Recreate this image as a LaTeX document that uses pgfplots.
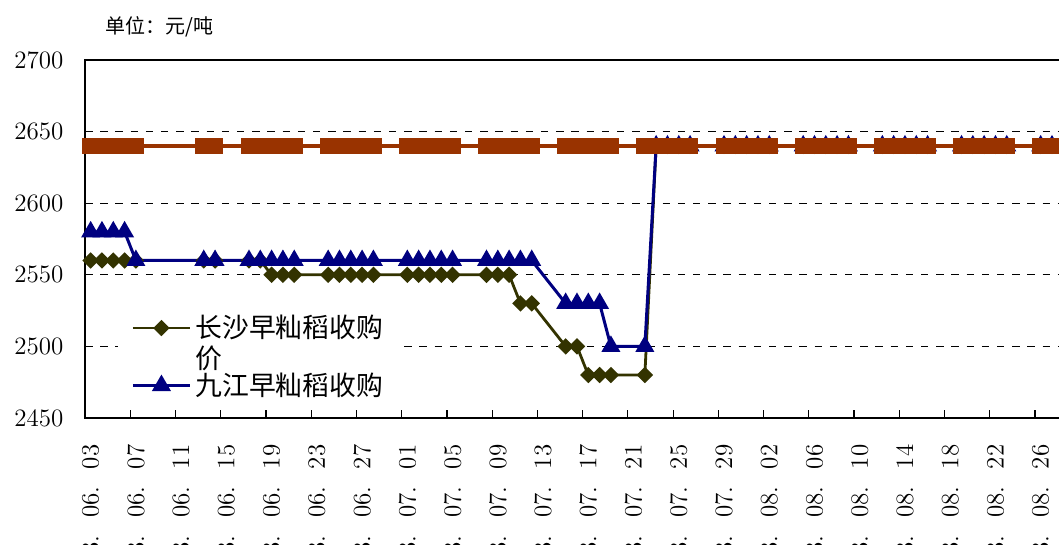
\documentclass[border=0pt]{standalone}
\usepackage{fontspec}
\usepackage{pgfplots}
\usepackage{pgfplotstable}
\pgfplotsset{compat=1.18}
\newfontfamily\cjk{Noto Sans CJK SC}
\definecolor{olivec}{HTML}{333300}
\definecolor{navyc}{HTML}{000080}
\definecolor{rustc}{HTML}{993300}
\newcommand\dl[2]{13.\hspace{0.70em}#1.\hspace{0.70em}#2}
% day index: 0 = 2013-06-03
\pgfplotstableread{
day cs jj ref
0 2560 2580 2640
1 2560 2580 2640
2 2560 2580 2640
3 2560 2580 2640
4 2560 2560 2640
10 2560 2560 2640
11 2560 2560 2640
14 2560 2560 2640
15 2560 2560 2640
16 2550 2560 2640
17 2550 2560 2640
18 2550 2560 2640
21 2550 2560 2640
22 2550 2560 2640
23 2550 2560 2640
24 2550 2560 2640
25 2550 2560 2640
28 2550 2560 2640
29 2550 2560 2640
30 2550 2560 2640
31 2550 2560 2640
32 2550 2560 2640
35 2550 2560 2640
36 2550 2560 2640
37 2550 2560 2640
38 2530 2560 2640
39 2530 2560 2640
42 2500 2530 2640
43 2500 2530 2640
44 2480 2530 2640
45 2480 2530 2640
46 2480 2500 2640
49 2480 2500 2640
50 2640 2640 2640
51 2640 2640 2640
52 2640 2640 2640
53 2640 2640 2640
56 2640 2640 2640
57 2640 2640 2640
58 2640 2640 2640
59 2640 2640 2640
60 2640 2640 2640
63 2640 2640 2640
64 2640 2640 2640
65 2640 2640 2640
66 2640 2640 2640
67 2640 2640 2640
70 2640 2640 2640
71 2640 2640 2640
72 2640 2640 2640
73 2640 2640 2640
74 2640 2640 2640
77 2640 2640 2640
78 2640 2640 2640
79 2640 2640 2640
80 2640 2640 2640
81 2640 2640 2640
84 2640 2640 2640
85 2640 2640 2640
86 2640 2640 2640
}\prices
\begin{document}
\begin{tikzpicture}
\useasboundingbox (0pt,0pt) rectangle (529.5pt,-272.5pt);
\clip (0pt,0pt) rectangle (529.5pt,-272.5pt);
\node[anchor=west,inner sep=0pt,font=\cjk\fontsize{10}{12}\selectfont] at (52.5pt,-13.5pt) {单位：元/吨};
\begin{axis}[
  at={(42.5pt,-209pt)}, anchor=south west,
  scale only axis, width=497.64pt, height=179pt,
  xmin=-0.5, xmax=87.5, ymin=2450, ymax=2700,
  clip=false,
  axis line style={black, line width=0.7pt},
  tick pos=left, tick align=inside,
  ytick={2450,2500,...,2700},
  /pgf/number format/1000 sep={},
  /pgf/number format/assume math mode=true,
  major tick length=4pt, minor tick length=4pt,
  ymajorgrids=true,
  major grid style={black, line width=0.5pt, dash pattern=on 3.65pt off 3.95pt},
  xtick={0,4,...,84},
  xticklabels={\dl{06}{03},\dl{06}{07},\dl{06}{11},\dl{06}{15},\dl{06}{19},\dl{06}{23},\dl{06}{27},\dl{07}{01},\dl{07}{05},\dl{07}{09},\dl{07}{13},\dl{07}{17},\dl{07}{21},\dl{07}{25},\dl{07}{29},\dl{08}{02},\dl{08}{06},\dl{08}{10},\dl{08}{14},\dl{08}{18},\dl{08}{22},\dl{08}{26}},
  major x tick style={draw=none},
  minor xtick={-0.5,3.5,...,87.5},
  tick style={black, line width=0.6pt},
  tick label style={font=\fontsize{12.5}{15}\selectfont},
  xticklabel style={rotate=90, anchor=east},
  xticklabel shift=9.8pt,
  yticklabel shift=7.3pt,
  legend cell align=left,
  legend image code/.code={\draw[mark repeat=2,mark phase=2,#1] plot coordinates {(0pt,0pt) (14.25pt,0pt) (28.5pt,0pt)};},
  legend style={at={(0.0332,0.316)}, anchor=north west, draw=none, fill=white,
    inner xsep=6.5pt, inner ysep=3pt, row sep=12pt,
    font=\cjk\fontsize{13.4}{15}\selectfont},
]
\addplot[olivec, line width=1.4pt, mark=square*, mark size=2.2pt,
  mark options={solid, rotate=45, fill=olivec, draw=olivec}] table[x=day, y=cs] {\prices};
\addlegendentry{\smash{\rlap{\raisebox{-15.5pt}{价}}}长沙早籼稻收购}
\addplot[navyc, line width=1.5pt, mark=triangle*, mark size=4pt,
  mark options={solid, fill=navyc, draw=navyc}] table[x=day, y=jj] {\prices};
\addlegendentry{九江早籼稻收购}
\addplot[rustc, line width=1.6pt, mark=square*, mark size=3.4pt,
  mark options={solid, fill=rustc, draw=rustc}, forget plot] table[x=day, y=ref] {\prices};
\end{axis}
\end{tikzpicture}
\end{document}
